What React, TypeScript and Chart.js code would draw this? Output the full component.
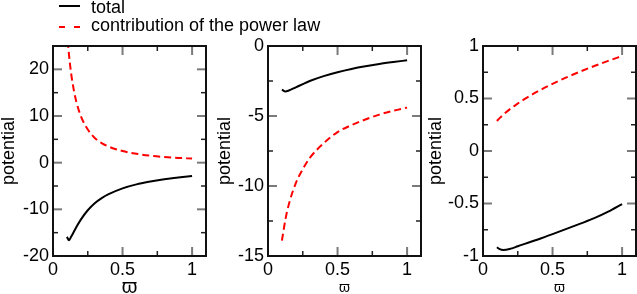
import React, { useEffect, useRef } from 'react';
import { Chart, registerables } from 'chart.js';

Chart.register(...registerables);

const FONT = "'Liberation Sans', Arial, Helvetica, sans-serif";

// ---- data ----
const legendLabels = ['total', 'contribution of the power law'];
const yTitleText = 'potential';
const xTitleText = 'ϖ';

// panel 1
const p1X = [0.1, 0.115, 0.13, 0.15, 0.17, 0.2, 0.25, 0.3, 0.35, 0.4, 0.5, 0.6, 0.7, 0.8, 0.9, 1.0];
const p1Total = [-15.9, -16.6, -15.9, -14.8, -13.7, -12.2, -10.2, -8.7, -7.6, -6.75, -5.5, -4.65, -4.05, -3.55, -3.2, -2.86];
const p1Power = [28.5, 23.1, 19.2, 15.5, 12.8, 10.0, 7.1, 5.3, 4.2, 3.45, 2.5, 1.9, 1.5, 1.22, 1.02, 0.87];

// panel 2
const p2X = [0.1, 0.125, 0.15, 0.2, 0.25, 0.3, 0.4, 0.5, 0.6, 0.7, 0.8, 0.9, 1.0];
const p2Total = [-3.12, -3.25, -3.18, -2.95, -2.72, -2.5, -2.15, -1.87, -1.64, -1.45, -1.29, -1.15, -1.02];
const p2Power = [-13.9, -12.4, -11.3, -9.8, -8.8, -8.0, -6.95, -6.15, -5.65, -5.25, -4.9, -4.63, -4.4];

// panel 3
const p3X = [0.1, 0.12, 0.145, 0.2, 0.25, 0.3, 0.4, 0.5, 0.6, 0.7, 0.8, 0.9, 1.0];
const p3Total = [-0.917, -0.935, -0.943, -0.93, -0.907, -0.884, -0.84, -0.792, -0.742, -0.692, -0.64, -0.578, -0.505];
const p3Power = [0.286, 0.313, 0.345, 0.405, 0.452, 0.496, 0.572, 0.64, 0.701, 0.757, 0.809, 0.858, 0.905];

// axis ranges / ticks
const xRange = [0, 1.1];
const xTicks = [0, 0.25, 0.5, 0.75, 1];
const xLabelTicks = [0, 0.5, 1];
const p1YRange = [-20, 25];
const p2YRange = [-15, 0];
const p3YRange = [-1, 1];
const p1YTicks = [-20, -15, -10, -5, 0, 5, 10, 15, 20, 25];
const p1YLabelTicks = [-20, -10, 0, 10, 20];
const p2YTicks = [-15, -12.5, -10, -7.5, -5, -2.5, 0];
const p2YLabelTicks = [-15, -10, -5, 0];
const p3YTicks = [-1, -0.75, -0.5, -0.25, 0, 0.25, 0.5, 0.75, 1];
const p3YLabelTicks = [-1, -0.5, 0, 0.5, 1];

type Panel = {
  xs: number[];
  total: number[];
  power: number[];
  yRange: number[];
  yTicks: number[];
  yLabels: number[];
  cx: number; cy: number; cw: number; ch: number;
  L: number; R: number; T: number; B: number;
  xTitleSize: number; xTitleLH: number;
};

const panels: Panel[] = [
  { xs: p1X, total: p1Total, power: p1Power, yRange: p1YRange, yTicks: p1YTicks, yLabels: p1YLabelTicks,
    cx: 0, cy: 30, cw: 211, ch: 264, L: 53, R: 206, T: 46, B: 256, xTitleSize: 20, xTitleLH: 14 },
  { xs: p2X, total: p2Total, power: p2Power, yRange: p2YRange, yTicks: p2YTicks, yLabels: p2YLabelTicks,
    cx: 216, cy: 30, cw: 207, ch: 264, L: 268, R: 421, T: 46, B: 256, xTitleSize: 14, xTitleLH: 12 },
  { xs: p3X, total: p3Total, power: p3Power, yRange: p3YRange, yTicks: p3YTicks, yLabels: p3YLabelTicks,
    cx: 427, cy: 30, cw: 210, ch: 264, L: 483, R: 636, T: 46, B: 256, xTitleSize: 14, xTitleLH: 12 },
];

const inList = (v: number, list: number[]) => list.some((u) => Math.abs(u - v) < 1e-9);
const fmt = (v: number) => String(parseFloat(v.toFixed(3)));

const frameTicksPlugin = {
  id: 'frameTicks',
  afterDraw(chart: any, _args: any, opts: any) {
    const { ctx, chartArea } = chart;
    const { left, right, top, bottom } = chartArea;
    const xs = chart.scales.x;
    const ys = chart.scales.y;
    const majLen = 9;
    const minLen = 5;
    ctx.save();
    const line = (x1: number, y1: number, x2: number, y2: number, major: boolean) => {
      ctx.beginPath();
      ctx.strokeStyle = major ? '#7a7a7a' : '#222';
      ctx.lineWidth = major ? 2 : 1.5;
      ctx.moveTo(x1, y1);
      ctx.lineTo(x2, y2);
      ctx.stroke();
    };
    xs.ticks.forEach((t: any) => {
      if (t.value <= xs.min + 1e-9 || t.value >= xs.max - 1e-9) return;
      const px = xs.getPixelForValue(t.value);
      const major = inList(t.value, opts.xLabels);
      const len = major ? majLen : minLen;
      line(px, bottom, px, bottom - len, major);
      line(px, top, px, top + len, major);
    });
    ys.ticks.forEach((t: any) => {
      if (t.value <= ys.min + 1e-9 || t.value >= ys.max - 1e-9) return;
      const py = ys.getPixelForValue(t.value);
      const major = inList(t.value, opts.yLabels);
      const len = major ? majLen : minLen;
      line(left, py, left + len, py, major);
      line(right, py, right - len, py, major);
    });
    ctx.strokeStyle = '#111';
    ctx.lineWidth = 2;
    ctx.strokeRect(left, top, right - left, bottom - top);
    ctx.restore();
  },
};

function PanelChart({ p }: { p: Panel }) {
  const ref = useRef<HTMLCanvasElement | null>(null);
  useEffect(() => {
    if (!ref.current) return;
    const padTop = p.T - p.cy;
    const padRight = p.cx + p.cw - p.R;
    const yWidth = p.L - p.cx;
    const xHeight = p.cy + p.ch - p.B;
    const chart = new Chart(ref.current, {
      type: 'line',
      data: {
        datasets: [
          {
            label: legendLabels[0],
            data: p.xs.map((x, i) => ({ x, y: p.total[i] })),
            borderColor: '#000000',
            borderWidth: 2,
            pointRadius: 0,
            fill: false,
            cubicInterpolationMode: 'monotone',
            borderJoinStyle: 'round',
          },
          {
            label: legendLabels[1],
            data: p.xs.map((x, i) => ({ x, y: p.power[i] })),
            borderColor: '#ff0000',
            borderWidth: 2,
            borderDash: [7, 4],
            pointRadius: 0,
            fill: false,
            cubicInterpolationMode: 'monotone',
          },
        ],
      },
      options: {
        animation: false,
        responsive: false,
        maintainAspectRatio: false,
        events: [],
        layout: { padding: { top: padTop, right: padRight, left: 0, bottom: 0 } },
        plugins: {
          legend: { display: false },
          tooltip: { enabled: false },
          frameTicks: { xLabels: xLabelTicks, yLabels: p.yLabels },
        } as any,
        scales: {
          x: {
            type: 'linear',
            min: xRange[0],
            max: xRange[1],
            grid: { display: false, drawTicks: false },
            border: { display: false },
            afterBuildTicks: (s: any) => { s.ticks = xTicks.map((v) => ({ value: v })); },
            ticks: {
              autoSkip: false,
              maxRotation: 0,
              padding: 3,
              color: '#000',
              font: { family: FONT, size: 18 },
              callback: (v: any) => (inList(Number(v), xLabelTicks) ? fmt(Number(v)) : ''),
            },
            title: {
              display: true,
              text: xTitleText,
              color: '#000',
              padding: 0,
              font: { family: FONT, size: p.xTitleSize, lineHeight: p.xTitleLH / p.xTitleSize },
            },
            afterFit: (s: any) => { s.height = xHeight; },
          },
          y: {
            type: 'linear',
            min: p.yRange[0],
            max: p.yRange[1],
            grid: { display: false, drawTicks: false },
            border: { display: false },
            afterBuildTicks: (s: any) => { s.ticks = p.yTicks.map((v) => ({ value: v })); },
            ticks: {
              autoSkip: false,
              padding: 4,
              color: '#000',
              font: { family: FONT, size: 18 },
              callback: (v: any) => (inList(Number(v), p.yLabels) ? fmt(Number(v)) : ''),
            },
            title: {
              display: true,
              text: yTitleText,
              color: '#000',
              padding: 0,
              font: { family: FONT, size: 18, lineHeight: 1 },
            },
            afterFit: (s: any) => { s.width = yWidth; },
          },
        },
      } as any,
      plugins: [frameTicksPlugin],
    });
    return () => chart.destroy();
  }, [p]);
  return (
    <canvas
      ref={ref}
      width={p.cw}
      height={p.ch}
      style={{ position: 'absolute', left: p.cx, top: p.cy, width: p.cw, height: p.ch }}
    />
  );
}

export default function App() {
  const textStyle: React.CSSProperties = {
    position: 'absolute',
    fontFamily: FONT,
    fontSize: 18,
    lineHeight: '18px',
    color: '#000',
    whiteSpace: 'nowrap',
  };
  return (
    <div
      style={{
        position: 'absolute',
        left: 0,
        top: 0,
        width: 637,
        height: 294,
        overflow: 'hidden',
        background: '#fff',
      }}
    >
      {panels.map((p, i) => (
        <PanelChart key={i} p={p} />
      ))}
      <div style={{ position: 'absolute', left: 59, top: 5, width: 21, height: 2, background: '#000' }} />
      <div style={{ ...textStyle, left: 91, top: -2 }}>{legendLabels[0]}</div>
      <div style={{ position: 'absolute', left: 59, top: 26, width: 6, height: 2, background: '#ff0000' }} />
      <div style={{ position: 'absolute', left: 74, top: 26, width: 6, height: 2, background: '#ff0000' }} />
      <div style={{ ...textStyle, left: 91, top: 16 }}>{legendLabels[1]}</div>
    </div>
  );
}
